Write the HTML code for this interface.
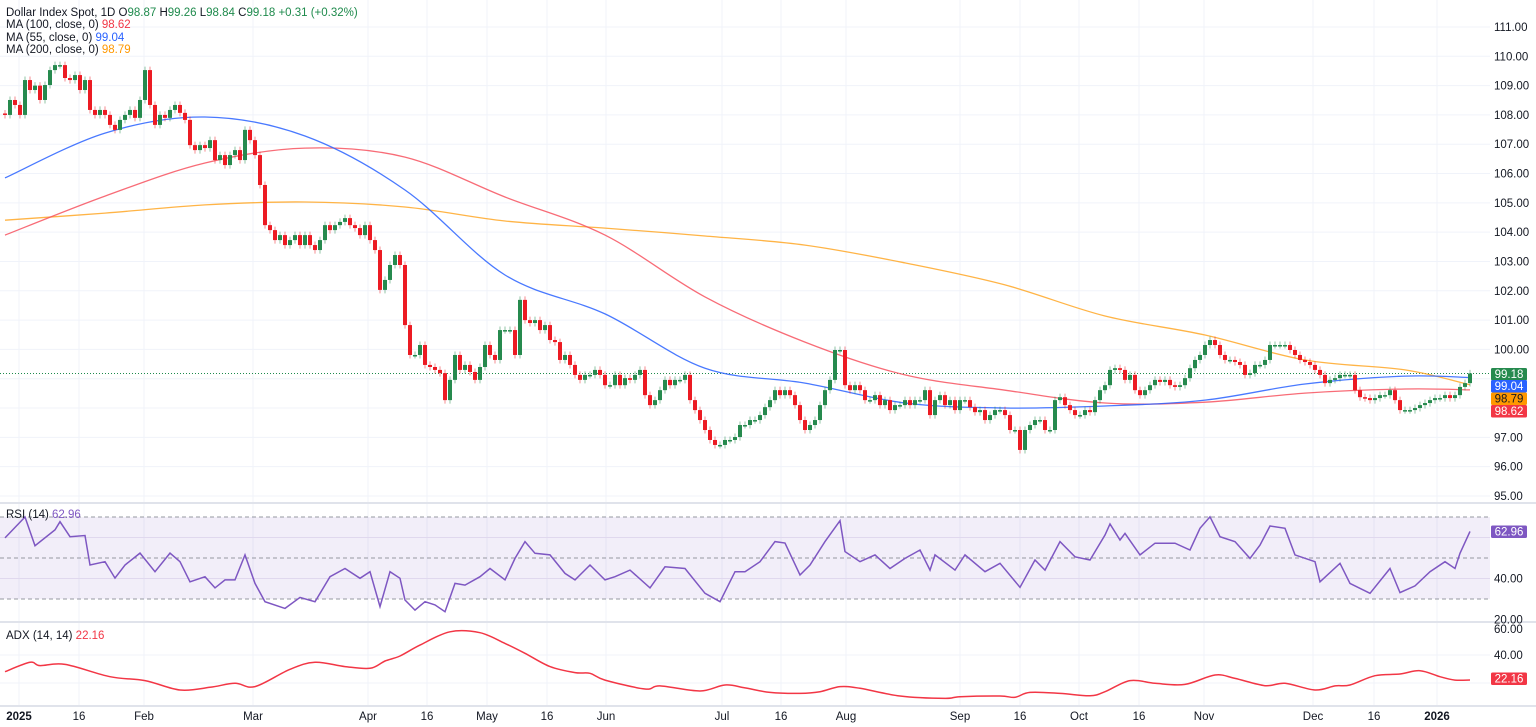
<!DOCTYPE html>
<html><head><meta charset="utf-8">
<style>
html,body{margin:0;padding:0;background:#fff;}
svg{display:block;font-family:"Liberation Sans",sans-serif;}
</style></head>
<body>
<svg id="chart" width="1536" height="727" viewBox="0 0 1536 727" xmlns="http://www.w3.org/2000/svg">
<rect width="1536" height="727" fill="#ffffff"/>
<g id="grid"></g>
<rect x="0" y="517" width="1490" height="82" fill="#7e57c2" fill-opacity="0.1"/>
<g id="guides"></g>
<g id="marks"></g>
<g id="axes"></g>
<g font-size="11.5">
  <text x="6" y="16" fill="#131722">Dollar Index Spot, 1D  <tspan fill="#131722">O</tspan><tspan fill="#1e8a4c">98.87</tspan> <tspan fill="#131722">H</tspan><tspan fill="#1e8a4c">99.26</tspan> <tspan fill="#131722">L</tspan><tspan fill="#1e8a4c">98.84</tspan> <tspan fill="#131722">C</tspan><tspan fill="#1e8a4c">99.18</tspan> <tspan fill="#1e8a4c">+0.31 (+0.32%)</tspan></text>
  <text x="6" y="28" fill="#131722">MA (100, close, 0) <tspan fill="#f23645">98.62</tspan></text>
  <text x="6" y="41" fill="#131722">MA (55, close, 0) <tspan fill="#2962ff">99.04</tspan></text>
  <text x="6" y="53" fill="#131722">MA (200, close, 0) <tspan fill="#ff9800">98.79</tspan></text>
  <text x="6" y="518" fill="#131722">RSI (14) <tspan fill="#7e57c2">62.96</tspan></text>
  <text x="6" y="639" fill="#131722">ADX (14, 14) <tspan fill="#f23645">22.16</tspan></text>
</g>
</svg>
<script>
const closes = [108.00,108.51,108.34,108.00,109.19,108.85,109.0,108.51,109.02,109.53,109.70,109.70,109.26,109.19,109.36,108.85,109.19,108.17,108.00,108.17,108.00,107.66,107.49,107.83,108.00,108.17,107.90,108.51,109.53,108.34,107.66,108.00,107.90,108.17,108.34,108.07,107.83,106.97,106.80,106.97,106.87,107.14,106.46,106.63,106.29,106.63,106.80,106.46,107.49,107.14,106.63,105.61,104.24,104.07,103.73,103.90,103.56,103.73,103.90,103.56,103.90,103.56,103.39,103.73,104.24,104.07,104.24,104.35,104.48,104.24,104.14,103.90,104.24,103.73,103.39,102.03,102.37,102.88,103.22,102.88,100.83,99.81,99.81,100.15,99.47,99.40,99.30,99.19,98.27,98.96,99.81,99.30,99.47,99.23,98.96,99.40,100.15,99.81,99.64,100.66,100.66,100.66,99.81,101.69,101.00,100.90,101.00,100.66,100.83,100.32,100.25,99.64,99.81,99.47,99.13,98.96,99.13,99.13,99.30,99.13,98.78,98.78,99.13,98.78,99.02,98.96,99.13,99.30,98.44,98.10,98.27,98.61,98.96,98.78,98.96,98.96,99.13,98.27,97.93,97.59,97.25,96.91,96.74,96.74,96.91,96.91,97.01,97.42,97.42,97.59,97.59,97.76,98.03,98.27,98.61,98.44,98.61,98.44,98.10,97.59,97.25,97.42,97.59,98.10,98.61,98.96,99.98,99.98,98.78,98.61,98.78,98.61,98.27,98.27,98.44,98.10,98.27,97.93,98.10,98.10,98.27,98.10,98.27,98.27,98.61,97.76,98.27,98.44,98.10,98.27,97.93,98.27,98.27,98.03,97.86,97.93,97.59,97.76,97.93,97.93,97.76,97.25,97.25,96.57,97.25,97.42,97.59,97.59,97.25,97.25,98.27,98.37,98.10,97.93,97.76,97.76,97.93,97.86,98.27,98.61,98.78,99.30,99.36,99.30,98.96,99.13,98.61,98.44,98.61,98.78,98.96,98.89,98.96,98.78,98.72,98.78,99.02,99.36,99.64,99.81,100.15,100.32,100.15,99.81,99.64,99.64,99.57,99.47,99.13,99.19,99.47,99.47,99.64,100.15,100.15,100.15,100.15,99.98,99.81,99.64,99.57,99.47,99.30,99.13,98.85,98.96,99.02,99.13,99.13,99.13,98.61,98.37,98.34,98.27,98.34,98.44,98.44,98.61,98.27,97.93,97.93,97.93,98.00,98.10,98.17,98.27,98.34,98.34,98.44,98.34,98.44,98.72,98.85,99.18];
const firstOpen = 108.05;
const maIdx = [0,20,40,60,80,100,120,140,160,180,200,220,240,260,280,293];
const ma55 = [105.85,107.38,107.93,107.28,105.44,102.54,101.21,99.36,98.85,98.17,98.00,98.07,98.27,98.82,99.09,99.04];
const ma100 = [103.90,105.23,106.36,106.87,106.56,105.20,103.90,101.79,100.25,99.13,98.61,98.17,98.20,98.51,98.65,98.62];
const ma200 = [104.41,104.65,104.93,105.03,104.86,104.38,104.14,103.87,103.56,102.95,102.20,101.14,100.49,99.64,99.30,98.79];
const rsiIdx = [0,4,6,10,11,13,16,17,20,22,24,27,30,33,35,37,40,42,44,46,48,50,52,56,59,62,65,68,71,73,75,77,79,80,82,84,86,88,90,92,95,97,100,102,104,106,109,112,114,117,120,122,125,129,132,136,140,143,146,148,151,154,156,159,161,164,167,168,171,174,177,180,183,185,186,190,192,196,199,203,206,208,211,214,217,220,221,223,224,227,230,234,237,239,241,243,246,249,251,253,256,258,262,263,267,269,273,277,279,282,285,288,290,291,293];
const rsiVal = [59.8,70,56,63.7,67.7,60.4,61,46.6,48.2,40.2,46.6,52.4,43.3,52.4,48.2,38.4,40.9,35.4,39.3,39.3,51.5,37.6,28.7,25.4,30.8,28.7,40.9,44.9,40.1,43.3,26.3,43.3,40.1,29.5,24.6,28.7,27.1,23.8,37.6,36.8,40.9,44.9,39.3,49.8,58,52.3,51.5,42.5,39.3,46.6,39.3,40.9,44.1,35.4,45.7,44.9,32.8,28.7,43.3,43.3,48.2,58,57.3,41.7,46.6,58,68.2,53.1,48.2,51.5,44.9,49.8,53.9,44.1,51.5,44.1,51.5,43.3,47.4,35.7,49.0,44.1,58,50.6,49.0,61.2,66.6,58.8,62.0,51.5,57.2,57.2,53.9,64.5,70.1,60.4,58,49.8,56.3,65.6,64.5,51.5,48.2,38.4,47.4,37.6,32.8,44.9,33.1,36.4,43.3,48.2,44.9,52.3,62.96];
const adxIdx = [0,5,7,12,21,28,35,41,46,50,57,62,68,73,76,79,83,89,95,100,104,109,114,117,120,128,131,139,144,148,153,159,163,167,171,179,188,191,199,202,205,211,217,220,225,230,236,242,246,252,256,262,266,269,274,279,283,287,290,293];
const adxVal = [28.1,34.8,32.4,33.3,24.5,21.7,15,16.9,19.8,17.4,29.8,34.8,31.7,30.5,35.7,39.3,47.1,56.6,55.9,48.3,41.2,31.7,27.4,26.9,22.1,15.7,17.9,14.3,18.6,16.5,13.3,12.6,13.8,17.4,16.2,10.7,9.0,10.2,10.7,9.8,13.3,12.6,10.9,13.8,21.7,19.8,19.0,25.7,23.3,18.1,19.8,15,17.9,18.6,25.2,26.4,28.8,24.5,22.1,22.16];
const priceTicks = [111,110,109,108,107,106,105,104,103,102,101,100,99,98,97,96,95];
const tickLabels = ["2025","16","Feb","Mar","Apr","16","May","16","Jun","Jul","16","Aug","Sep","16","Oct","16","Nov","Dec","16","2026"];
const tickIdx = [2.8,14.8,27.8,49.6,72.6,84.4,96.4,108.4,120.2,143.4,155.2,168.2,191,203,214.8,226.8,239.8,261.6,273.8,286.4];

const NS = "http://www.w3.org/2000/svg";
const X = i => 5 + 5 * i;
const PY = p => 27 + (111 - p) * 29.31;
const RY = v => 517 + (70 - v) * 2.05;
const AY = v => 655 + (40 - v) * 1.4;
function mk(tag, attrs, parent) {
  const e = document.createElementNS(NS, tag);
  for (const k in attrs) e.setAttribute(k, attrs[k]);
  parent.appendChild(e);
  return e;
}
const grid = document.getElementById('grid');
const guides = document.getElementById('guides');
const marks = document.getElementById('marks');
const axes = document.getElementById('axes');

priceTicks.forEach(p => {
  const l = mk('line', {x1: 0, x2: 1490, y1: PY(p), y2: PY(p), stroke: '#f0f3fa', 'stroke-width': 1}, grid);
  
  
  const t = mk('text', {x: 1494, y: PY(p) + 4, 'font-size': 11.5, fill: '#131722'}, axes);
  t.textContent = p.toFixed(2);
  
  
});
tickLabels.forEach((lab, k) => {
  const x = X(tickIdx[k]);
  const l = mk('line', {x1: x, x2: x, y1: 0, y2: 706, stroke: '#f0f3fa', 'stroke-width': 1}, grid);
  
  
  const bold = (lab === '2025' || lab === '2026');
  const t = mk('text', {x: x, y: 720, 'font-size': 11.5, fill: '#131722', 'text-anchor': 'middle', 'font-weight': bold ? 'bold' : 'normal'}, axes);
  t.textContent = lab;
  
  
});
[60, 40].forEach(v => {
  const l = mk('line', {x1: 0, x2: 1490, y1: RY(v), y2: RY(v), stroke: '#ebe7f3'}, grid);
  
  
});
[40, 20].forEach(v => {
  const l = mk('line', {x1: 0, x2: 1490, y1: AY(v), y2: AY(v), stroke: '#f0f3fa'}, grid);
  
  
});
[70, 50, 30].forEach(v => {
  const l = mk('line', {x1: 0, x2: 1490, y1: RY(v), y2: RY(v), stroke: '#9598a1', 'stroke-dasharray': '4 3', 'stroke-width': 1}, guides);
  
  
});
[[0, 503, 1536, 503], [0, 622, 1536, 622], [0, 706, 1536, 706]].forEach(s => {
  const l = mk('line', {x1: s[0], y1: s[1], x2: s[2], y2: s[3], stroke: '#e0e3eb', 'stroke-width': 2}, axes);
  
  
});
[["40.00", RY(40)], ["20.00", RY(20)]].forEach(a => {
  const t = mk('text', {x: 1494, y: a[1] + 4, 'font-size': 11.5, fill: '#131722'}, axes);
  t.textContent = a[0];
  
  
});
[["60.00", AY(60) + 2], ["40.00", AY(40)]].forEach(a => {
  const t = mk('text', {x: 1494, y: a[1] + 4, 'font-size': 11.5, fill: '#131722'}, axes);
  t.textContent = a[0];
  
  
});

const last = closes[closes.length - 1];
const lp = mk('line', {x1: 0, x2: 1490, y1: PY(last), y2: PY(last), stroke: '#1e8a4c', 'stroke-dasharray': '1 2', 'stroke-width': 1}, marks);



function linePath(idx, vals, yf) {
  return idx.map((i, k) => (k ? 'L' : 'M') + X(i).toFixed(1) + ',' + yf(vals[k]).toFixed(1)).join(' ');
}
function smoothPath(idx, vals, yf) {
  const P = idx.map((i, k) => [X(i), yf(vals[k])]);
  let d = 'M' + P[0][0].toFixed(1) + ',' + P[0][1].toFixed(1);
  for (let k = 0; k < P.length - 1; k++) {
    const p0 = P[Math.max(0, k - 1)], p1 = P[k], p2 = P[k + 1], p3 = P[Math.min(P.length - 1, k + 2)];
    const c1x = p1[0] + (p2[0] - p0[0]) / 6, c1y = p1[1] + (p2[1] - p0[1]) / 6;
    const c2x = p2[0] - (p3[0] - p1[0]) / 6, c2y = p2[1] - (p3[1] - p1[1]) / 6;
    d += ' C' + c1x.toFixed(1) + ',' + c1y.toFixed(1) + ' ' + c2x.toFixed(1) + ',' + c2y.toFixed(1) + ' ' + p2[0].toFixed(1) + ',' + p2[1].toFixed(1);
  }
  return d;
}
[[ma200, '#ffa726', 'ma200-line'], [ma100, '#f7525f', 'ma100-line'], [ma55, '#2962ff', 'ma55-line']].forEach(m => {
  const p = mk('path', {d: smoothPath(maIdx, m[0], PY), fill: 'none', stroke: m[1], 'stroke-width': 1.3, 'stroke-opacity': 0.85}, marks);
  
  
});

const GREEN = '#268a4e', RED = '#ec1b23';
closes.forEach((c, i) => {
  const o = i ? closes[i - 1] : firstOpen;
  const up = c >= o;
  const col = up ? GREEN : RED;
  const hi = Math.max(o, c) + 0.12, lo = Math.min(o, c) - 0.12;
  const x = X(i);
  const w = mk('line', {x1: x, x2: x, y1: PY(hi), y2: PY(lo), stroke: col, 'stroke-opacity': 0.5, 'stroke-width': 1}, marks);
  
  
  const top = PY(Math.max(o, c)), h = Math.max(1.5, PY(Math.min(o, c)) - top);
  const b = mk('rect', {x: x - 2, y: top, width: 4, height: h, fill: col}, marks);
  
  
});

const rsi = mk('path', {d: linePath(rsiIdx, rsiVal, RY), fill: 'none', stroke: '#7e57c2', 'stroke-width': 1.5}, marks);


const adx = mk('path', {d: smoothPath(adxIdx, adxVal, AY), fill: 'none', stroke: '#f23645', 'stroke-width': 1.5}, marks);



function badge(val, y, bg, fg, name) {
  const g = mk('g', {}, axes);
  
  
  mk('rect', {x: 1491, y: y - 6, width: 36, height: 12.5, rx: 1.5, fill: bg}, g);
  const t = mk('text', {x: 1509, y: y + 4, 'font-size': 11.5, fill: fg, 'text-anchor': 'middle'}, g);
  t.textContent = val;
}
badge(last.toFixed(2), 374, '#268a4e', '#fff', 'last-price-badge');
badge(ma55[ma55.length - 1].toFixed(2), 386, '#2962ff', '#fff', 'ma55-badge');
badge(ma200[ma200.length - 1].toFixed(2), 398.5, '#ff9800', '#131722', 'ma200-badge');
badge(ma100[ma100.length - 1].toFixed(2), 411, '#f23645', '#fff', 'ma100-badge');
badge(rsiVal[rsiVal.length - 1].toFixed(2), 531.5, '#7e57c2', '#fff', 'rsi-badge');
badge(adxVal[adxVal.length - 1].toFixed(2), 678.5, '#f23645', '#fff', 'adx-badge');
</script>
</body></html>
